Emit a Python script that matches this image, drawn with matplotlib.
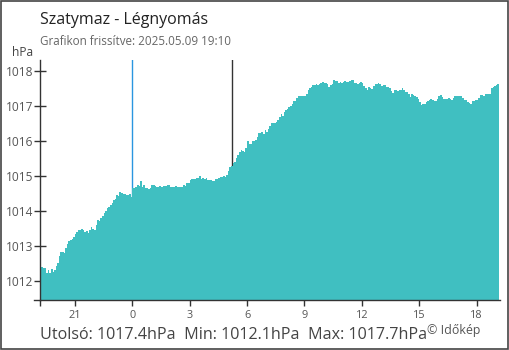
import numpy as np
import matplotlib
matplotlib.use("Agg")
import matplotlib.pyplot as plt
from matplotlib.lines import Line2D
from matplotlib.patches import Rectangle

plt.rcParams['font.family'] = ['Open Sans', 'DejaVu Sans']

# 5-minute pressure readings (hPa), 19:15 previous day .. 19:10
pressure = [
    1012.31, 1012.39, 1012.37, 1012.37, 1012.24, 1012.31, 1012.24, 1012.34, 1012.26, 1012.31,
    1012.43, 1012.52, 1012.70, 1012.84, 1012.83, 1012.81, 1012.93, 1013.06, 1013.15, 1013.17,
    1013.21, 1013.27, 1013.34, 1013.40, 1013.46, 1013.45, 1013.48, 1013.46, 1013.40, 1013.42,
    1013.36, 1013.45, 1013.55, 1013.49, 1013.46, 1013.59, 1013.74, 1013.70, 1013.81, 1013.86,
    1013.93, 1013.99, 1014.07, 1014.12, 1014.18, 1014.24, 1014.31, 1014.33, 1014.46, 1014.43,
    1014.54, 1014.50, 1014.48, 1014.47, 1014.45, 1014.45, 1014.47, 1014.41, 1014.65, 1014.66,
    1014.67, 1014.75, 1014.71, 1014.85, 1014.69, 1014.73, 1014.66, 1014.66, 1014.64, 1014.66,
    1014.75, 1014.75, 1014.71, 1014.69, 1014.69, 1014.71, 1014.69, 1014.71, 1014.71, 1014.71,
    1014.73, 1014.73, 1014.69, 1014.69, 1014.69, 1014.71, 1014.68, 1014.69, 1014.69, 1014.68,
    1014.73, 1014.71, 1014.80, 1014.81, 1014.89, 1014.90, 1014.90, 1014.92, 1014.94, 1014.94,
    1015.00, 1014.92, 1014.93, 1014.92, 1014.93, 1014.88, 1014.89, 1014.88, 1014.86, 1014.85,
    1014.90, 1014.90, 1014.93, 1014.97, 1014.96, 1015.01, 1014.97, 1015.02, 1015.13, 1015.25,
    1015.29, 1015.38, 1015.40, 1015.50, 1015.60, 1015.67, 1015.73, 1015.70, 1015.69, 1015.80,
    1015.99, 1015.91, 1015.90, 1016.00, 1015.99, 1016.03, 1016.10, 1016.22, 1016.22, 1016.24,
    1016.21, 1016.30, 1016.26, 1016.35, 1016.43, 1016.51, 1016.52, 1016.52, 1016.55, 1016.60,
    1016.68, 1016.76, 1016.72, 1016.82, 1016.89, 1016.92, 1016.98, 1017.00, 1017.06, 1017.13,
    1017.15, 1017.23, 1017.28, 1017.29, 1017.27, 1017.28, 1017.27, 1017.34, 1017.46, 1017.50,
    1017.54, 1017.59, 1017.60, 1017.62, 1017.61, 1017.62, 1017.64, 1017.68, 1017.66, 1017.65,
    1017.62, 1017.55, 1017.60, 1017.62, 1017.73, 1017.72, 1017.72, 1017.65, 1017.68, 1017.66,
    1017.67, 1017.72, 1017.67, 1017.67, 1017.72, 1017.73, 1017.74, 1017.66, 1017.64, 1017.63,
    1017.64, 1017.69, 1017.66, 1017.57, 1017.50, 1017.46, 1017.55, 1017.50, 1017.48, 1017.57,
    1017.62, 1017.62, 1017.64, 1017.63, 1017.57, 1017.60, 1017.61, 1017.55, 1017.54, 1017.51,
    1017.42, 1017.38, 1017.46, 1017.45, 1017.42, 1017.44, 1017.44, 1017.50, 1017.46, 1017.40,
    1017.40, 1017.34, 1017.26, 1017.33, 1017.32, 1017.29, 1017.25, 1017.21, 1017.12, 1017.02,
    1017.05, 1017.04, 1017.11, 1017.14, 1017.16, 1017.20, 1017.16, 1017.15, 1017.13, 1017.20,
    1017.27, 1017.31, 1017.24, 1017.21, 1017.20, 1017.21, 1017.22, 1017.20, 1017.17, 1017.22,
    1017.28, 1017.27, 1017.27, 1017.27, 1017.27, 1017.23, 1017.18, 1017.17, 1017.10, 1017.08,
    1017.04, 1017.13, 1017.15, 1017.16, 1017.18, 1017.22, 1017.31, 1017.30, 1017.29, 1017.33,
    1017.33, 1017.34, 1017.35, 1017.50, 1017.53, 1017.56, 1017.60, 1017.62,
]
start_hour = -4.8333          # 19:10 previous day, relative to midnight
step_hours = 5 / 60
hour_ticks = [-3, 0, 3, 6, 9, 12, 15, 18]
hour_labels = ['21', '0', '3', '6', '9', '12', '15', '18']
y_ticks = [1012, 1013, 1014, 1015, 1016, 1017, 1018]
sunrise_hour = 5.22
title = "Szatymaz - Légnyomás"
subtitle = "Grafikon frissítve: 2025.05.09 19:10"
summary = "Utolsó: 1017.4hPa  Min: 1012.1hPa  Max: 1017.7hPa"

W, H = 510, 350
fig = plt.figure(figsize=(W / 100, H / 100), dpi=100)
ax = fig.add_axes([40 / W, (H - 300) / H, 460 / W, 240 / H])

edges = start_hour + step_hours * np.arange(len(pressure) + 1)
ymin, ymax = 1011.457, 1018.31
ax.stairs(pressure, edges, fill=True, baseline=ymin, color='#40bfc1', zorder=3, linewidth=0)
ax.axvline(0, color='#2a96e0', lw=1, zorder=2)
ax.axvline(sunrise_hour, color='#333333', lw=1, zorder=2)

ax.set_xlim(-4.82, 19.22)
ax.set_ylim(ymin, ymax)

for s in ['top', 'right']:
    ax.spines[s].set_visible(False)
for s in ['left', 'bottom']:
    ax.spines[s].set_color('#333333')
    ax.spines[s].set_linewidth(1)
    ax.spines[s].set_zorder(5)

ax.set_xticks([-4.82] + hour_ticks)
ax.set_xticklabels([''] + hour_labels)
ax.tick_params(axis='x', direction='out', length=4.5, width=1, color='#333333',
               labelsize=7.8, labelcolor='#555555', pad=3)
ax.get_xticklines()[2].set_color('#2a96e0')
ax.set_yticks(y_ticks)
ax.set_yticklabels([str(v) for v in y_ticks])
ax.tick_params(axis='y', direction='inout', length=8, width=1, color='#333333',
               labelsize=8.6, labelcolor='#555555', pad=1)

ax.add_line(Line2D([-6 / 460, 0], [0, 0], transform=ax.transAxes, color='#333333',
                   lw=1, clip_on=False, zorder=5))

def ft(x, y, s, **kw):
    fig.text(x / W, 1 - y / H, s, va='baseline', ha=kw.pop('ha', 'left'), **kw)

ft(40, 24, title, fontsize=11.5, color='#222222')
ft(40, 45, subtitle, fontsize=8.4, color='#666666')
ft(12, 56, "hPa", fontsize=8.6, color='#444444')
ft(40, 339, summary, fontsize=11.6, color='#444444')
ft(427, 334, "© Időkép", fontsize=8.9, color='#555555')

fig.add_artist(Rectangle((0.5 / W, 1.5 / H), 508 / W, 347.5 / H, transform=fig.transFigure,
                         fill=False, edgecolor='#444444', lw=1.2))

fig.savefig('out.png', dpi=100)
